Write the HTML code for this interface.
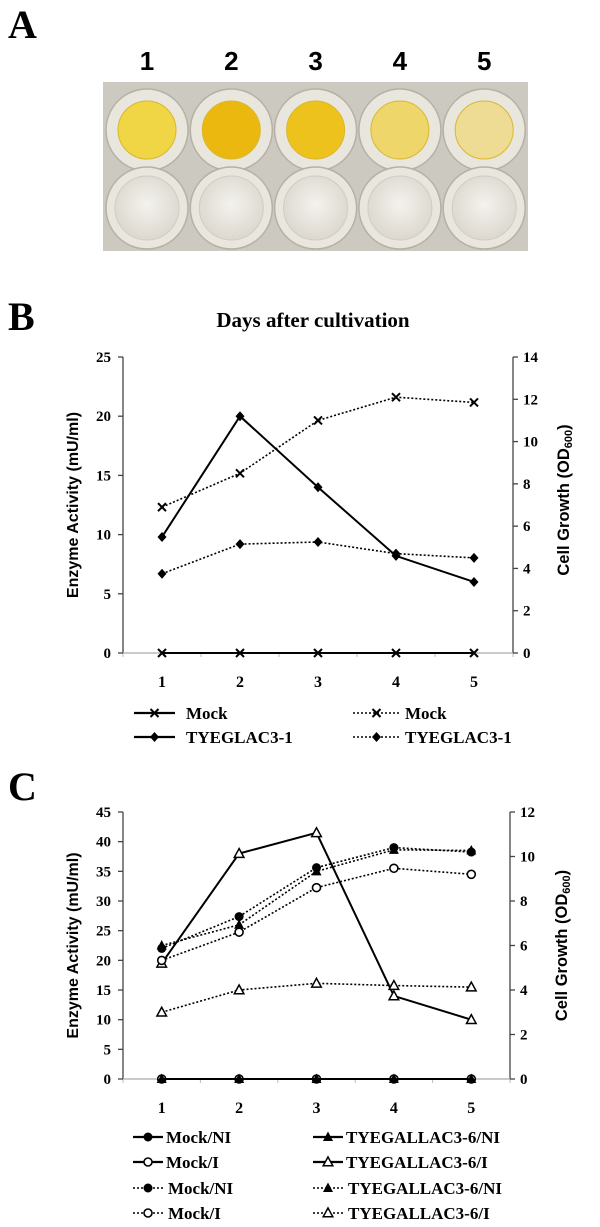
<!DOCTYPE html>
<html><head><meta charset="utf-8">
<style>
html,body{margin:0;padding:0;background:#fff;}
body{width:600px;height:1227px;position:relative;overflow:hidden;font-family:"Liberation Serif",serif;}
svg{position:absolute;left:0;top:0;}
</style></head>
<body>
<svg id="fig" width="600" height="1227" viewBox="0 0 600 1227" xmlns="http://www.w3.org/2000/svg">
  <defs>
    <radialGradient id="gw" cx="50%" cy="45%" r="55%"><stop offset="0" stop-color="#f4f2ee"/><stop offset="1" stop-color="#dcd8cf"/></radialGradient>
  </defs>
  <text x="8" y="38" font-size="40" font-weight="bold" font-family="Liberation Serif,serif">A</text>
  <g id="plate">
    <rect x="103" y="82" width="425" height="169" fill="#cbc9c0"/>
  </g>
  <text x="8" y="330" font-size="40" font-weight="bold" font-family="Liberation Serif,serif">B</text>
  <text x="313" y="327" font-size="21" font-weight="bold" text-anchor="middle" font-family="Liberation Serif,serif">Days after cultivation</text>
  <text x="8" y="800" font-size="40" font-weight="bold" font-family="Liberation Serif,serif">C</text>
  <g id="chartB"></g>
  <g id="chartC"></g>
</svg>
<script>
// ---- Panel A data ----
const wellLabels = ["1","2","3","4","5"];
const wellColors = ["#f0d545","#ebb80f","#edc21c","#efd66a","#eedb94"];

// ---- Panel B data ----
const daysB = [1,2,3,4,5];
const bLeftTicks = [0,5,10,15,20,25];
const bRightTicks = [0,2,4,6,8,10,12,14];
const bMockEnzyme = [0,0,0,0,0];
const bTyegEnzyme = [9.8,20,14,8.2,6];
const bMockGrowth = [6.9,8.5,11.0,12.1,11.85];
const bTyegGrowth = [3.75,5.15,5.25,4.7,4.5];

// ---- Panel C data ----
const daysC = [1,2,3,4,5];
const cLeftTicks = [0,5,10,15,20,25,30,35,40,45];
const cRightTicks = [0,2,4,6,8,10,12];
const cMockNIEnzyme = [0,0,0,0,0];
const cMockIEnzyme = [0,0,0,0,0];
const cTyegNIEnzyme = [0,0,0,0,0];
const cTyegIEnzyme = [19.5,38,41.5,14,10];
const cMockNIGrowth = [5.87,7.3,9.5,10.4,10.2];
const cMockIGrowth = [5.33,6.6,8.6,9.47,9.2];
const cTyegNIGrowth = [6.0,6.93,9.33,10.3,10.27];
const cTyegIGrowth = [3.0,4.0,4.3,4.2,4.13];

const NS = "http://www.w3.org/2000/svg";
function mk(tag, attrs, parent){
  const e = document.createElementNS(NS, tag);
  for (const k in attrs) e.setAttribute(k, attrs[k]);
  parent.appendChild(e);
  return e;
}

// ---- Plate ----
(function(){
  const g = document.getElementById("plate");
  const x0 = 147, dx = 84.3, rows = [130, 208];
  wellLabels.forEach((lab, i) => {
    const cx = x0 + i*dx;
    const t = mk("text", {x:cx, y:70, "font-size":26, "font-weight":"bold", "text-anchor":"middle", "font-family":"Liberation Sans,sans-serif"}, document.getElementById("fig"));
    t.textContent = lab;
    
    
    rows.forEach((cy, r) => {
      const o = mk("circle", {cx:cx, cy:cy, r:41, fill:"#e9e6dd", stroke:"#b5b1a6", "stroke-width":1.5}, g);
      
      
      const inner = mk("circle", {cx:cx, cy:cy, r:r===0?29:32, fill:r===0?wellColors[i]:"url(#gw)", stroke:r===0?"#d9b730":"#d0ccc2", "stroke-width":1}, g);
      
      
    });
  });
})();

// ---- Generic chart ----
function drawChart(gid, cfg){
  const g = document.getElementById(gid);
  const L = cfg.left, R = cfg.right, T = cfg.top, B = cfg.bottom;
  const n = cfg.days.length, cw = (R-L)/n;
  const xs = i => L + cw*(i+0.5);
  const yl = v => B - (v/cfg.lmax)*(B-T);
  const yr = v => B - (v/cfg.rmax)*(B-T);
  let a = mk("line",{x1:L,y1:T,x2:L,y2:B,stroke:"#444","stroke-width":1.3},g);
   
  a = mk("line",{x1:R,y1:T,x2:R,y2:B,stroke:"#444","stroke-width":1.3},g);
   
  a = mk("line",{x1:L,y1:B,x2:R,y2:B,stroke:"#aaa","stroke-width":1.3},g);
   
  for (let i=0;i<=n;i++){
    const t = mk("line",{x1:L+cw*i,y1:B,x2:L+cw*i,y2:B+4,stroke:"#bbb","stroke-width":1},g);
     
  }
  cfg.lticks.forEach(v=>{
    const t = mk("line",{x1:L-5,y1:yl(v),x2:L,y2:yl(v),stroke:"#444","stroke-width":1.3},g);
     
    const tx = mk("text",{x:L-12,y:yl(v)+5,"font-size":15,"font-weight":"bold","text-anchor":"end","font-family":"Liberation Serif,serif"},g);
    tx.textContent = v;
     
  });
  cfg.rticks.forEach(v=>{
    const t = mk("line",{x1:R,y1:yr(v),x2:R+5,y2:yr(v),stroke:"#444","stroke-width":1.3},g);
     
    const tx = mk("text",{x:R+10,y:yr(v)+5,"font-size":15,"font-weight":"bold","text-anchor":"start","font-family":"Liberation Serif,serif"},g);
    tx.textContent = v;
     
  });
  cfg.days.forEach((d,i)=>{
    const tx = mk("text",{x:xs(i),y:B+34,"font-size":16,"font-weight":"bold","text-anchor":"middle","font-family":"Liberation Serif,serif"},g);
    tx.textContent = d;
     
  });
  const cy = (T+B)/2;
  let yt = mk("text",{x:0,y:0,"font-size":16,"font-weight":"bold","text-anchor":"middle","font-family":"Liberation Sans,sans-serif",transform:`translate(${cfg.ltx},${cy+cfg.ltdy}) rotate(-90)`},g);
  yt.textContent = "Enzyme Activity (mU/ml)";
   
  yt = mk("text",{x:0,y:0,"font-size":16.5,"font-weight":"bold","text-anchor":"middle","font-family":"Liberation Sans,sans-serif",transform:`translate(${cfg.rtx},${cy+cfg.rtdy}) rotate(-90)`},g);
  yt.innerHTML = 'Cell Growth (OD<tspan font-size="11" dy="3">600</tspan><tspan dy="-3">)</tspan>';
   
  cfg.series.forEach(s=>{
    const yf = s.axis==="r" ? yr : yl;
    const pts = s.values.map((v,i)=>xs(i)+","+yf(v)).join(" ");
    const pl = mk("polyline",{points:pts,fill:"none",stroke:"#000","stroke-width":s.dashed?1.6:2,"stroke-dasharray":s.dashed?"2,2":"none"},g);
     
    s.values.forEach((v,i)=>{
      const m = marker(g, s.marker, xs(i), yf(v));
       
    });
  });
  cfg.legend.forEach(l=>{
    const lg = mk("g",{},g);
     
    const ln = mk("line",{x1:l.x,y1:l.y,x2:l.x+l.w,y2:l.y,stroke:"#000","stroke-width":l.dashed?1.6:2.2,"stroke-dasharray":l.dashed?"2,2":"none"},lg);
     
    const m = marker(lg, l.marker, l.x+l.w/2, l.y);
     
    const tx = mk("text",{x:l.x+l.w+l.gap,y:l.y+6,"font-size":l.fs,"font-weight":"bold","font-family":"Liberation Serif,serif"},lg);
    tx.textContent = l.label;
     
  });
}
function marker(g, type, x, y){
  if (type==="x") return mk("path",{d:`M${x-4},${y-4}L${x+4},${y+4}M${x-4},${y+4}L${x+4},${y-4}`,stroke:"#000","stroke-width":2,fill:"none"},g);
  if (type==="diamond") return mk("path",{d:`M${x},${y-5}L${x+4.5},${y}L${x},${y+5}L${x-4.5},${y}Z`,fill:"#000"},g);
  if (type==="dot") return mk("circle",{cx:x,cy:y,r:4.5,fill:"#000"},g);
  if (type==="ring") return mk("circle",{cx:x,cy:y,r:4,fill:"#fff",stroke:"#000","stroke-width":1.6},g);
  if (type==="tri") return mk("path",{d:`M${x},${y-5.5}L${x+5},${y+4}L${x-5},${y+4}Z`,fill:"#000"},g);
  if (type==="otri") return mk("path",{d:`M${x},${y-5}L${x+4.8},${y+3.8}L${x-4.8},${y+3.8}Z`,fill:"#fff",stroke:"#000","stroke-width":1.5},g);
}

drawChart("chartB",{
  left:123,right:513,top:357,bottom:653,lmax:25,rmax:14,
  days:daysB,lticks:bLeftTicks,rticks:bRightTicks,
  ltx:78,ltdy:0,rtx:569,rtdy:-5,
  series:[
    {name:"mock-enzyme",values:bMockEnzyme,axis:"l",marker:"x",dashed:false},
    {name:"tyeglac-enzyme",values:bTyegEnzyme,axis:"l",marker:"diamond",dashed:false},
    {name:"mock-growth",values:bMockGrowth,axis:"r",marker:"x",dashed:true},
    {name:"tyeglac-growth",values:bTyegGrowth,axis:"r",marker:"diamond",dashed:true}
  ],
  legend:[
    {x:134,y:713,w:41,gap:11,marker:"x",dashed:false,label:"Mock",fs:17},
    {x:134,y:737,w:41,gap:11,marker:"diamond",dashed:false,label:"TYEGLAC3-1",fs:17},
    {x:353,y:713,w:47,gap:5,marker:"x",dashed:true,label:"Mock",fs:17},
    {x:353,y:737,w:47,gap:5,marker:"diamond",dashed:true,label:"TYEGLAC3-1",fs:17}
  ]
});

drawChart("chartC",{
  left:123,right:510,top:812,bottom:1079,lmax:45,rmax:12,
  days:daysC,lticks:cLeftTicks,rticks:cRightTicks,
  ltx:78,ltdy:0,rtx:567,rtdy:0,
  series:[
    {name:"mock-ni-enzyme",values:cMockNIEnzyme,axis:"l",marker:"dot",dashed:false},
    {name:"mock-i-enzyme",values:cMockIEnzyme,axis:"l",marker:"ring",dashed:false},
    {name:"tyeg-ni-enzyme",values:cTyegNIEnzyme,axis:"l",marker:"tri",dashed:false},
    {name:"tyeg-i-enzyme",values:cTyegIEnzyme,axis:"l",marker:"otri",dashed:false},
    {name:"mock-i-growth",values:cMockIGrowth,axis:"r",marker:"ring",dashed:true},
    {name:"tyeg-i-growth",values:cTyegIGrowth,axis:"r",marker:"otri",dashed:true},
    {name:"tyeg-ni-growth",values:cTyegNIGrowth,axis:"r",marker:"tri",dashed:true},
    {name:"mock-ni-growth",values:cMockNIGrowth,axis:"r",marker:"dot",dashed:true}
  ],
  legend:[
    {x:133,y:1137,w:30,gap:3,marker:"dot",dashed:false,label:"Mock/NI",fs:17},
    {x:133,y:1162,w:30,gap:3,marker:"ring",dashed:false,label:"Mock/I",fs:17},
    {x:133,y:1188,w:30,gap:5,marker:"dot",dashed:true,label:"Mock/NI",fs:17},
    {x:133,y:1213,w:30,gap:5,marker:"ring",dashed:true,label:"Mock/I",fs:17},
    {x:313,y:1137,w:30,gap:3,marker:"tri",dashed:false,label:"TYEGALLAC3-6/NI",fs:17},
    {x:313,y:1162,w:30,gap:3,marker:"otri",dashed:false,label:"TYEGALLAC3-6/I",fs:17},
    {x:313,y:1188,w:30,gap:5,marker:"tri",dashed:true,label:"TYEGALLAC3-6/NI",fs:17},
    {x:313,y:1213,w:30,gap:5,marker:"otri",dashed:true,label:"TYEGALLAC3-6/I",fs:17}
  ]
});
</script>
</body></html>
